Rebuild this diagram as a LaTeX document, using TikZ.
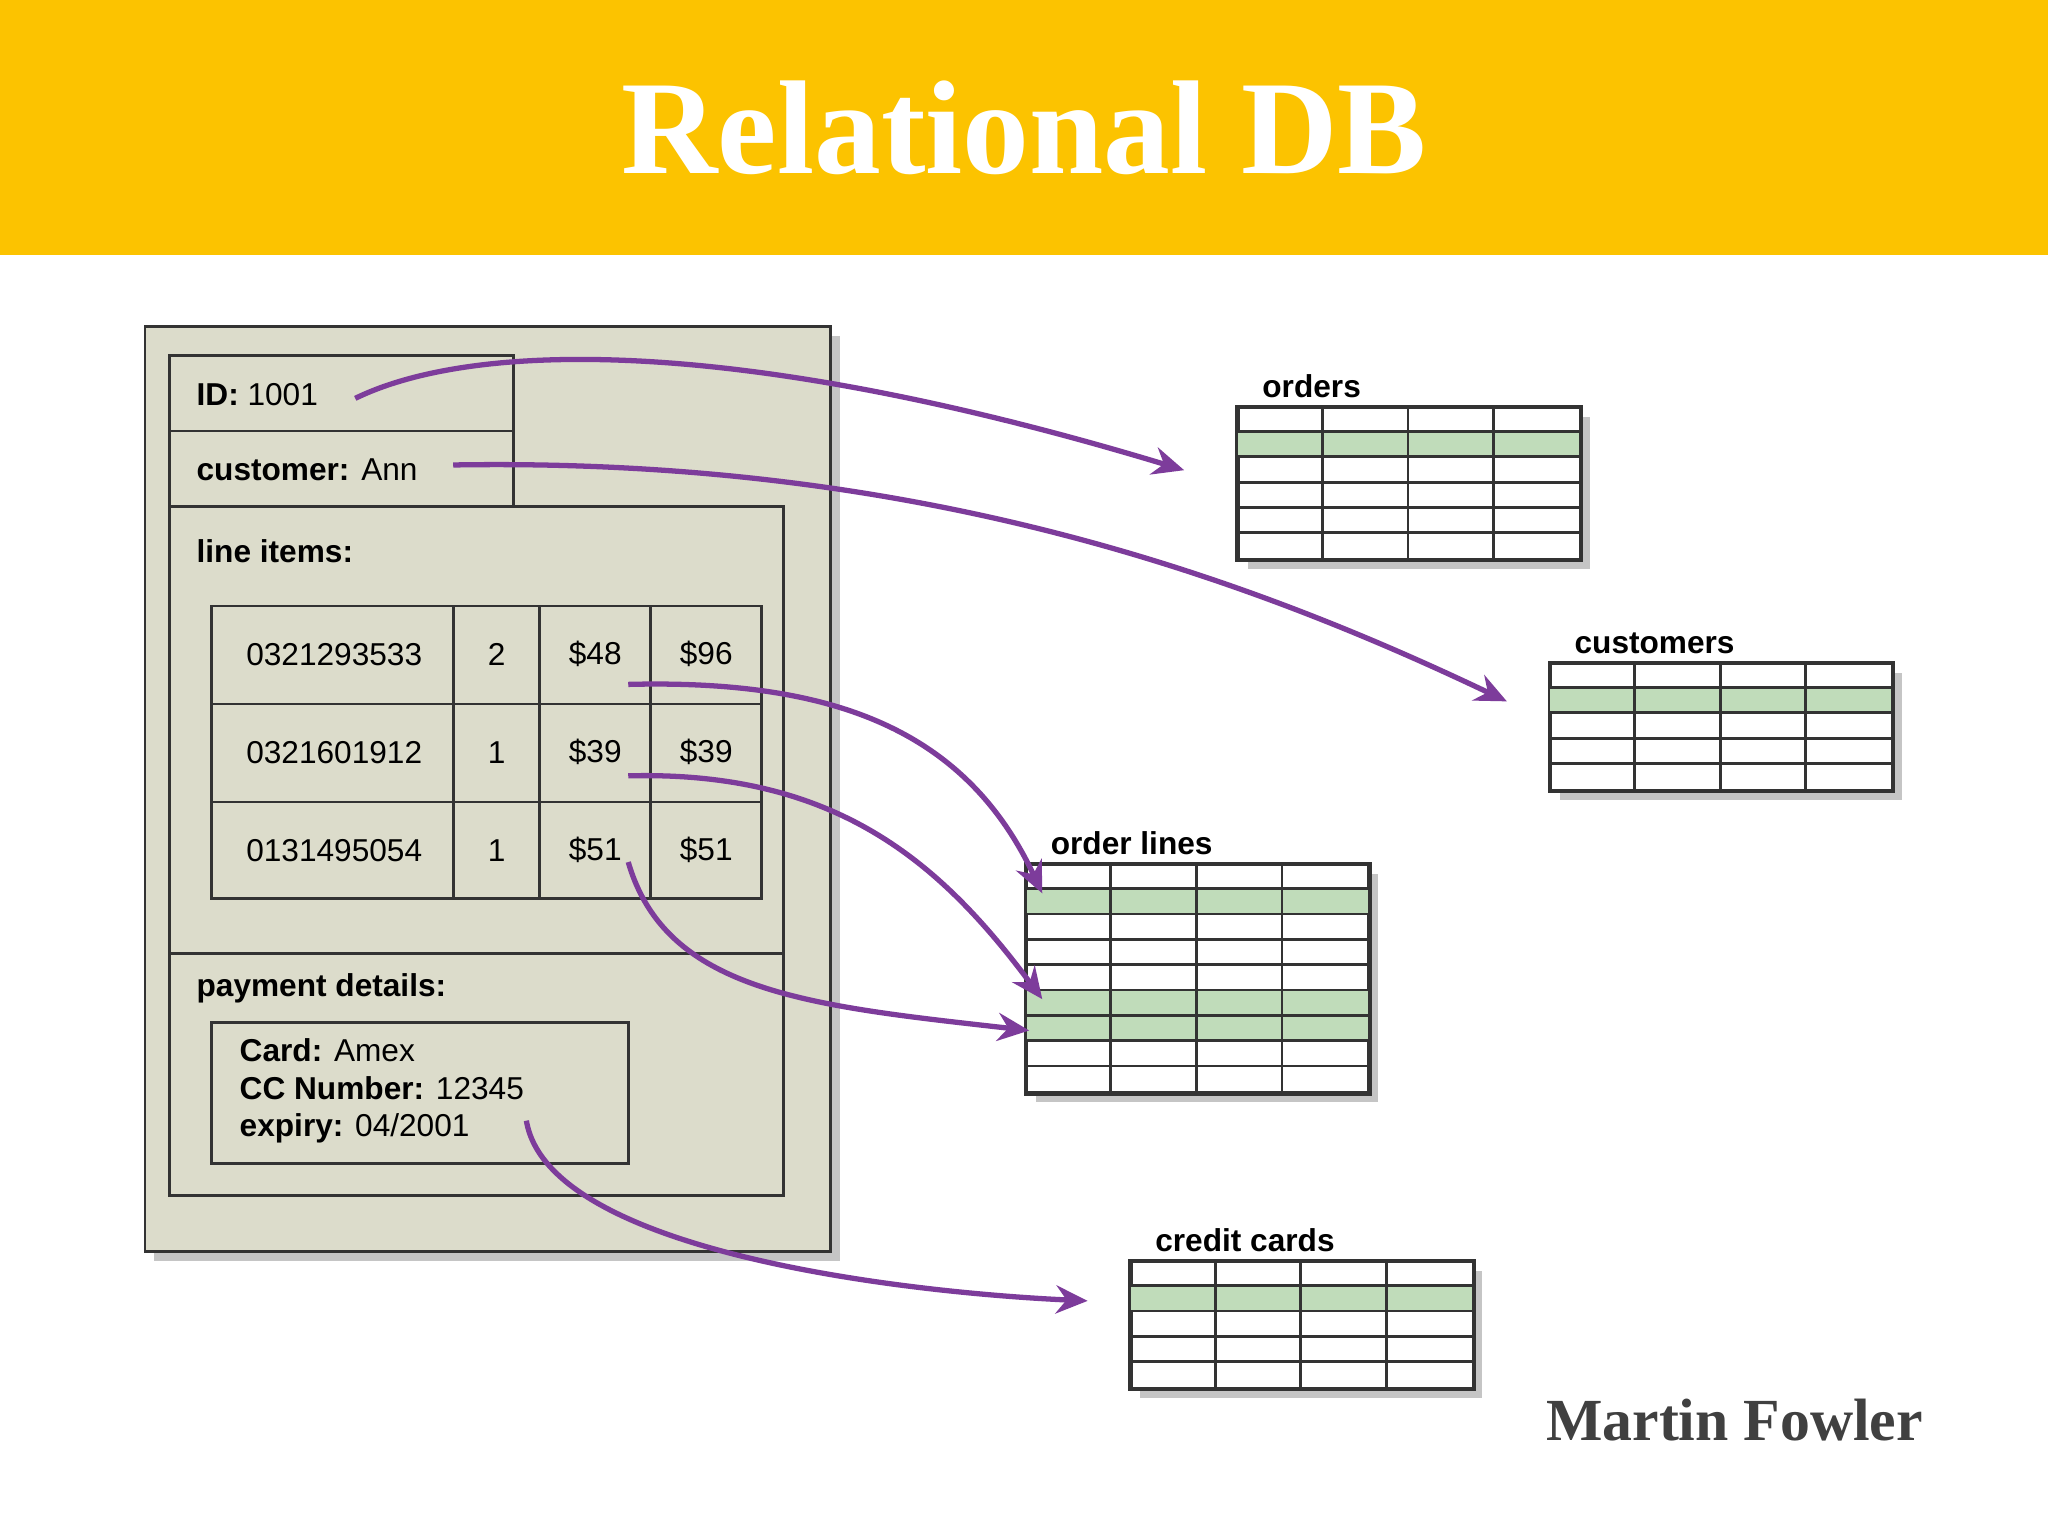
\documentclass[tikz,border=0pt]{standalone}
\usepackage{fontspec}
\setmainfont{Liberation Sans}
\newfontfamily\titlefont{Liberation Serif}
\usetikzlibrary{shadows,arrows.meta}
\definecolor{bannergold}{RGB}{252,195,0}
\definecolor{panelgrey}{RGB}{220,220,203}
\definecolor{rowgreen}{RGB}{192,220,186}
\definecolor{linkpurple}{RGB}{125,60,155}
\tikzset{
  panel/.style={draw=black!80, fill=panelgrey, thick, drop shadow={opacity=0.45}},
  cell/.style={draw=black!80, thick},
  lbl/.style={anchor=west, font=\fontsize{9}{11}\selectfont, inner sep=0pt},
  hdr/.style={anchor=south west, font=\fontsize{9}{11}\selectfont\bfseries, inner sep=0pt},
  link/.style={linkpurple, line width=1.5pt, -{Stealth[length=9pt,width=8pt,inset=3pt]}}
}
% name, x, y, rows, green rows, title
\newcommand{\dbtable}[6]{%
  \node[draw=black!80, thick, fill=white, drop shadow={opacity=0.45}, anchor=north west,
        minimum width=3.42cm, minimum height=#4*0.2534cm, inner sep=0pt] (#1) at (#2,#3) {};
  \foreach \g in {#5} {
    \fill[rowgreen] (#2,#3+\g*19.4-19.4) rectangle ++(262,19.4);
  }
  \foreach \r in {1,...,\numexpr#4-1\relax} {
    \draw[black!80, thick] (#2,#3+\r*19.4) -- ++(262,0);
  }
  \foreach \c in {1,2,3} {
    \draw[black!80, thick] (#2+\c*65.5,#3) -- ++(0,#4*19.4);
  }
  \draw[black!80, thick] (#1.north west) rectangle (#1.south east);
  \node[hdr] (#1-title) at (#2+19,#3-6) {#6};
}
\begin{document}
\begin{tikzpicture}[x=0.01306cm, y=-0.01306cm]
\useasboundingbox (0,0) rectangle (1568,1176);
\fill[white] (0,0) rectangle (1568,1176);
% banner
\fill[bannergold] (0,0) rectangle (1568,195);
\node[white, font=\titlefont\bfseries\fontsize{38}{40}\selectfont] (title) at (784,98) {Relational DB};

% the aggregate
\path[panel] (111,250) rectangle (636,958);
\draw[cell] (130,272) rectangle (393,330);
\draw[cell] (130,330) rectangle (393,388);
\draw[cell] (130,388) rectangle (600,730);
\draw[cell] (130,730) rectangle (600,915);
\node[lbl] (id) at (150,302) {\textbf{ID:} 1001};
\node[lbl] (cust) at (150,360) {\textbf{customer:} Ann};
\node[lbl] (items) at (150,422) {\textbf{line items:}};
\node[lbl] (pay) at (150,757) {\textbf{payment details:}};
% line item rows
\draw[cell] (162,464) rectangle (583,688);
\foreach \y in {539,614} \draw[cell] (162,\y) -- (583,\y);
\foreach \x in {347,413,498} \draw[cell] (\x,464) -- (\x,688);
\foreach \y/\isbn/\q/\p/\t [count=\i] in {501/0321293533/2/48/96, 576/0321601912/1/39/39, 651/0131495054/1/51/51} {
  \node[lbl] (isbn\i) at (188,\y) {\isbn};
  \node[lbl] (qty\i) at (373,\y) {\q};
  \node[lbl] (price\i) at (435,\y) {\$\p};
  \node[lbl] (total\i) at (520,\y) {\$\t};
}
\draw[cell] (162,783) rectangle (481,891);
\node[lbl, align=left, anchor=north west, font=\fontsize{9}{10.6}\selectfont] (card) at (183,795)
  {\textbf{Card:} Amex\\ \textbf{CC Number:} 12345\\ \textbf{expiry:} 04/2001};

% tables
\dbtable{orders}{947}{311}{6}{2}{orders}
\dbtable{customers}{1186}{507}{5}{2}{customers}
\dbtable{orderlines}{785}{661}{9}{2,6,7}{order lines}
\dbtable{cards}{865}{965}{5}{2}{credit cards}

% links
\coordinate (idend) at (272,305);
\coordinate (custend) at (347,356);
\coordinate (li1) at (481,524);
\coordinate (li2) at (481,594);
\coordinate (li3) at (481,660);
\coordinate (ccend) at (403,858);
\draw[link] (idend) .. controls (360,262) and (560,255) .. ([xshift=-15pt]orders.west |- 0,360);
\draw[link] (custend) .. controls (700,350) and (950,440) .. ([xshift=-12pt]customers.west |- 0,537);
\draw[link] (li1) .. controls (640,520) and (740,560) .. (798,684);
\draw[link] (li2) .. controls (640,590) and (720,660) .. (798,765);
\draw[link] (li3) .. controls (510,760) and (620,770) .. (788,789);
\draw[link] (ccend) .. controls (420,960) and (700,990) .. ([xshift=-12pt]cards.west |- 0,996);

\node[black!75, font=\titlefont\bfseries\fontsize{17}{19}\selectfont] (author) at (1328,1087) {Martin Fowler};
\end{tikzpicture}
\end{document}
